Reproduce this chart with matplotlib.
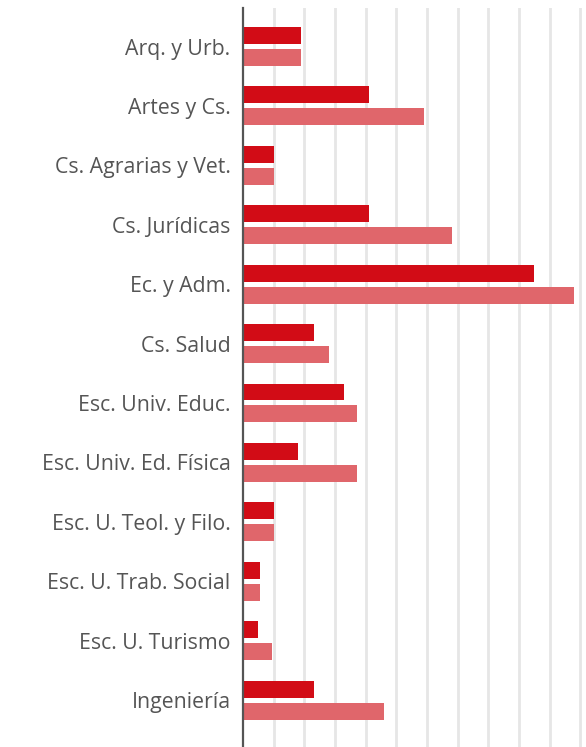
import numpy as np
import matplotlib.pyplot as plt

categories = [
    "Arq. y Urb.", "Artes y Cs.", "Cs. Agrarias y Vet.", "Cs. Jurídicas",
    "Ec. y Adm.", "Cs. Salud", "Esc. Univ. Educ.", "Esc. Univ. Ed. Física",
    "Esc. U. Teol. y Filo.", "Esc. U. Trab. Social", "Esc. U. Turismo", "Ingeniería",
]
serie_a = [19, 41, 10, 41, 95, 23, 33, 18, 10, 5.5, 5, 23]
serie_b = [19, 59, 10, 68, 108, 28, 37, 37, 10, 5.5, 9.5, 46]

color_a = "#D20C16"
color_b = "#E0666B"

fig = plt.figure(figsize=(5.86, 7.47), dpi=100)
# axes placed in pixel terms: left 243, right 586, top 8, bottom 747
ax = fig.add_axes([243 / 586, 0, 1 - 243 / 586, 1 - 8 / 747])

y = np.arange(len(categories))
h = 0.286
off = 0.185
ax.barh(y - off, serie_a, height=h, color=color_a, zorder=3)
ax.barh(y + off, serie_b, height=h, color=color_b, zorder=3)

ax.set_yticks(y)
ax.set_yticklabels(categories, fontsize=15.3, color="#555555", family="Open Sans")
ax.tick_params(axis="y", length=0, pad=9)
ax.set_ylim(11.79, -0.648)

ax.set_xlim(0, 111.8)
ax.set_xticks(np.arange(10, 111, 10))
ax.tick_params(axis="x", length=0, labelbottom=False)
ax.grid(axis="x", color="#E6E6E6", linewidth=2, zorder=0)

for s in ["top", "right", "bottom"]:
    ax.spines[s].set_visible(False)
ax.spines["left"].set_color("#555555")
ax.spines["left"].set_linewidth(1.6)
ax.spines["left"].set_zorder(4)

fig.savefig("out.png", dpi=100)
